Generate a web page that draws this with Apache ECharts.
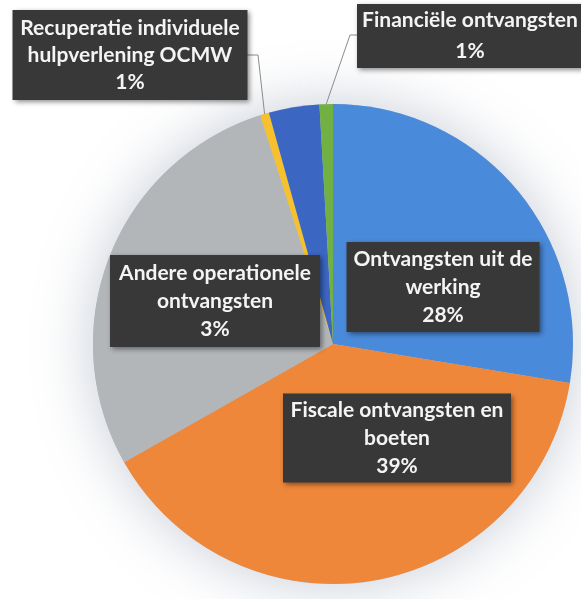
<!DOCTYPE html>
<html>
<head>
<meta charset="utf-8">
<script src="https://cdn.jsdelivr.net/npm/echarts@6/dist/echarts.min.js"></script>
<style>
  html, body { margin: 0; padding: 0; background: #fff; }
  #chart { width: 581px; height: 599px; }
</style>
</head>
<body>
<div id="chart"></div>
<script>
// slices, clockwise from 12 o'clock
const categories = [
  "Ontvangsten uit de\nwerking",
  "Fiscale ontvangsten en\nboeten",
  "Werkingssubsidies",
  "Recuperatie individuele\nhulpverlening OCMW",
  "Andere operationele\nontvangsten",
  "Financiële ontvangsten"
];
const shares = [27.6, 39.2, 28.3, 0.6, 3.4, 0.9];
const colors = ["#4a8ada", "#ee873a", "#b3b6b9", "#f6c12c", "#3b66c2", "#71b144"];

// label boxes: centre, size, line height and (optional) leader line bends
const boxes = [
  { x: 443, y: 287, w: 193, h: 90, lh: 28 },
  { x: 397, y: 438, w: 228, h: 89, lh: 28 },
  null,
  { x: 130, y: 55, w: 235, h: 90, lh: 27, line: [[258, 55], [247, 55]] },
  { x: 215, y: 301, w: 210, h: 92, lh: 28 },
  { x: 470, y: 36, w: 226, h: 64, lh: 31, line: [[350, 35], [357, 35]] }
];

const chart = echarts.init(document.getElementById("chart"));

const data = categories.map((name, i) => {
  const b = boxes[i];
  const item = { name: name, value: shares[i], itemStyle: { color: colors[i] } };
  if (!b) {
    item.label = { show: false };
    item.labelLine = { show: false };
    return item;
  }
  const lines = name.split("\n").length + 1;
  item.label = {
    width: b.w,
    lineHeight: b.lh,
    padding: [Math.max(0, (b.h - lines * b.lh) / 2), 0]
  };
  item.labelLine = { show: !!b.line };
  return item;
});

chart.setOption({
  backgroundColor: "#fff",
  animation: false,
  series: [
    {
      // soft halo under the pie
      type: "pie",
      silent: true,
      center: [333, 344],
      radius: 240,
      z: 1,
      label: { show: false },
      labelLine: { show: false },
      itemStyle: {
        color: "#b8bcc2",
        shadowBlur: 60,
        shadowColor: "rgba(110,125,150,0.4)"
      },
      data: [100]
    },
    {
      type: "pie",
      center: [333, 344],
      radius: 240,
      startAngle: 90,
      clockwise: true,
      z: 2,
      avoidLabelOverlap: false,
      itemStyle: { borderWidth: 0 },
      label: {
        show: true,
        position: "outside",
        formatter: p => p.name + "\n" + Math.round(p.percent) + "%",
        color: "#f4f4f4",
        fontFamily: "Lato",
        fontWeight: "bold",
        fontSize: 21,
        align: "center",
        backgroundColor: "#393838",
        shadowColor: "rgba(0,0,0,0.45)",
        shadowBlur: 5,
        shadowOffsetX: 2,
        shadowOffsetY: 2
      },
      labelLine: {
        lineStyle: { color: "#8c8c8c", width: 1 }
      },
      labelLayout: function (params) {
        const b = boxes[params.dataIndex];
        if (!b) return {};
        const out = { x: b.x, y: b.y, align: "center", verticalAlign: "middle" };
        if (b.line && params.labelLinePoints) {
          out.labelLinePoints = [params.labelLinePoints[0], b.line[0], b.line[1]];
        }
        return out;
      },
      data: data
    }
  ]
});
</script>
</body>
</html>
